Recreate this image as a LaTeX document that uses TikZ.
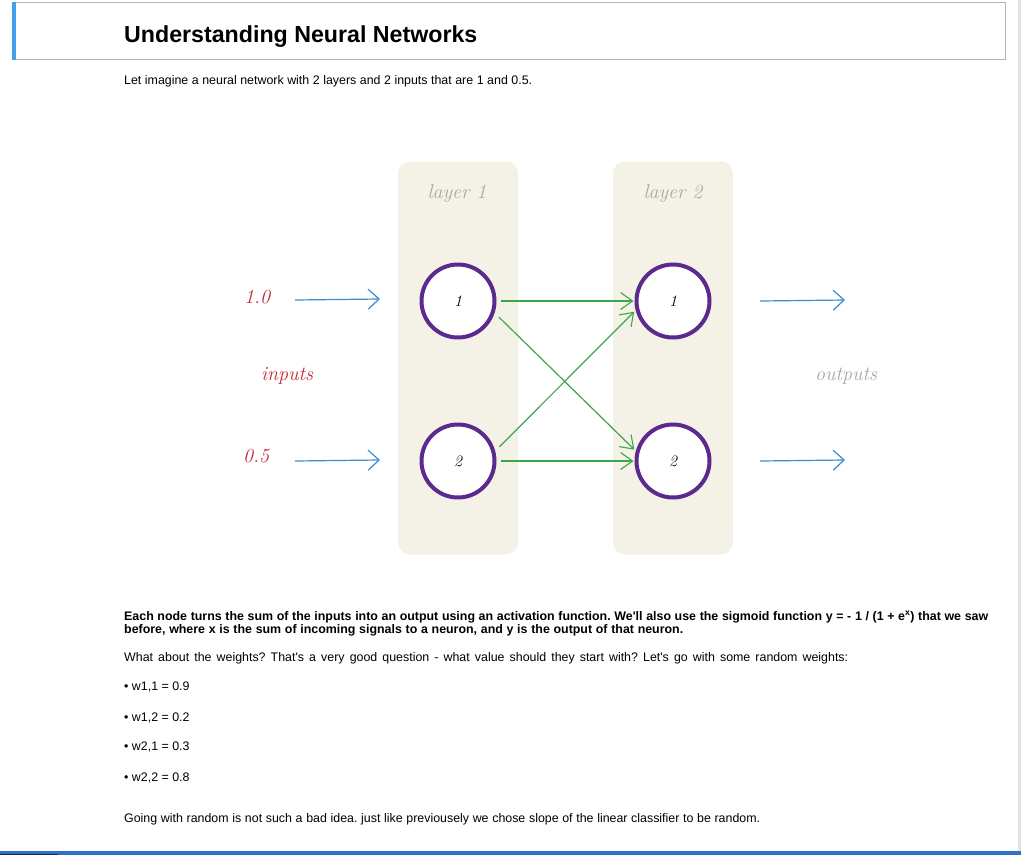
\documentclass[tikz,border=0pt]{standalone}
\usepackage{fontspec}
\newfontfamily\arial{Liberation Sans}
\usetikzlibrary{arrows.meta}
\definecolor{beige}{HTML}{F4F2E6}
\definecolor{purp}{HTML}{5C2A8E}
\definecolor{arrowblue}{HTML}{3A8DD0}
\definecolor{linkgreen}{HTML}{3CA64C}
\definecolor{handred}{HTML}{C42A36}
\definecolor{handgray}{HTML}{A8A8A8}
\definecolor{barblue}{HTML}{42A0EE}
\definecolor{boxgray}{HTML}{B4B4B4}
\definecolor{bottomblue}{HTML}{2F72C8}
\definecolor{navy}{HTML}{1A2A40}
\definecolor{scroll}{HTML}{E2E2E2}
\newcommand{\linewd}[2]{\makebox[#1pt][s]{#2}}
\begin{document}
\frenchspacing
\begin{tikzpicture}[x=1pt,y=-1pt,
  body/.style={anchor=base west, inner sep=0pt, font=\arial\fontsize{12.4}{14}\selectfont, text=black},
  bodybold/.style={body, font=\arial\bfseries\fontsize{12.4}{14}\selectfont},
  titletext/.style={anchor=base west, inner sep=0pt, font=\arial\bfseries\fontsize{23.2}{26}\selectfont},
  layerbox/.style={fill=beige, draw=none, rounded corners=12pt, minimum width=120pt, minimum height=393pt, inner sep=0pt},
  neuron/.style={circle, draw=purp, line width=4pt, fill=white, minimum size=73pt, inner sep=0pt, font=\itshape\fontsize{16}{16}\selectfont},
  hand/.style={inner sep=0pt, font=\itshape\fontsize{20}{20}\selectfont},
  inarrow/.style={draw=arrowblue, line width=1.2pt, -{Straight Barb[length=11pt,width=20pt,line width=1.2pt]}},
  link/.style={draw=linkgreen, line width=1.2pt, -{Straight Barb[length=12pt,width=17pt,line width=1.1pt]}}
]
\useasboundingbox (0,0) rectangle (1021,855);
\fill[white] (0,0) rectangle (1021,855);
% scrollbar strip
\fill[scroll] (1018,0) rectangle (1021,851);
% header box
\draw[boxgray, line width=1pt] (14,2.5) rectangle (1005,59);
\fill[barblue] (11.5,2) rectangle (16,59.5);
\node[titletext] (title) at (124,42) {Understanding Neural Networks};
\node[body] (intro) at (124,84) {\linewd{408}{Let imagine a neural network with 2 layers and 2 inputs that are 1 and 0.5.}};

% layer boxes
\node[layerbox] (L1) at (458,358) {};
\node[layerbox] (L2) at (673,358) {};
\node[hand, text=handgray] (L1lab) at (457,194) {layer 1};
\node[hand, text=handgray] (L2lab) at (673,194) {layer 2};

% neurons
\node[neuron] (n11) at (458,301) {1};
\node[neuron] (n12) at (458,461) {2};
\node[neuron] (n21) at (673,301) {1};
\node[neuron] (n22) at (673,461) {2};

% labels
\node[hand, text=handred] (x1) at (257,297) {1.0};
\node[hand, text=handred] (x2) at (256,456) {0.5};
\node[hand, text=handred] (inl) at (287,376) {inputs};
\node[hand, text=handgray] (outl) at (846,376) {outputs};

% input / output arrows
\coordinate (a1s) at (295,300); \coordinate (a1e) at (380,299);
\coordinate (a2s) at (295,461); \coordinate (a2e) at (380,460);
\coordinate (o1s) at (760,301); \coordinate (o1e) at (845,300);
\coordinate (o2s) at (760,461); \coordinate (o2e) at (845,460);
\draw[inarrow] (a1s) -- (a1e);
\draw[inarrow] (a2s) -- (a2e);
\draw[inarrow] (o1s) -- (o1e);
\draw[inarrow] (o2s) -- (o2e);

% links
\draw[link, shorten <=4pt, shorten >=1pt] (n11.east) -- (n21.west);
\draw[link, shorten <=4pt, shorten >=1pt] (n12.east) -- (n22.west);
\draw[link, shorten <=6pt, shorten >=2pt] (n11.-18) -- (n22.165);
\draw[link, shorten <=6pt, shorten >=2pt] (n12.15) -- (n21.194);

% text below
\node[bodybold] (p1) at (124,620) {\linewd{864}{Each node turns the sum of the inputs into an output using an activation function. We'll also use the sigmoid function y = - 1 / (1 + e\textsuperscript{x}) that we saw}};
\node[bodybold] (p2) at (124,633) {\linewd{559}{before, where x is the sum of incoming signals to a neuron, and y is the output of that neuron.}};
\node[body] (p3) at (124,661) {\linewd{724}{What about the weights? That's a very good question - what value should they start with? Let's go with some random weights:}};
\node[body] (w11) at (124,690) {\textbullet\ w1,1 = 0.9};
\node[body] (w12) at (124,721) {\textbullet\ w1,2 = 0.2};
\node[body] (w21) at (124,750) {\textbullet\ w2,1 = 0.3};
\node[body] (w22) at (124,781) {\textbullet\ w2,2 = 0.8};
\node[body] (p4) at (124,822) {\linewd{636}{Going with random is not such a bad idea. just like previousely we chose slope of the linear classifier to be random.}};

% bottom bar
\fill[bottomblue] (0,851) rectangle (1021,855);
\fill[navy] (0,853.5) rectangle (58,855);
\end{tikzpicture}
\end{document}
